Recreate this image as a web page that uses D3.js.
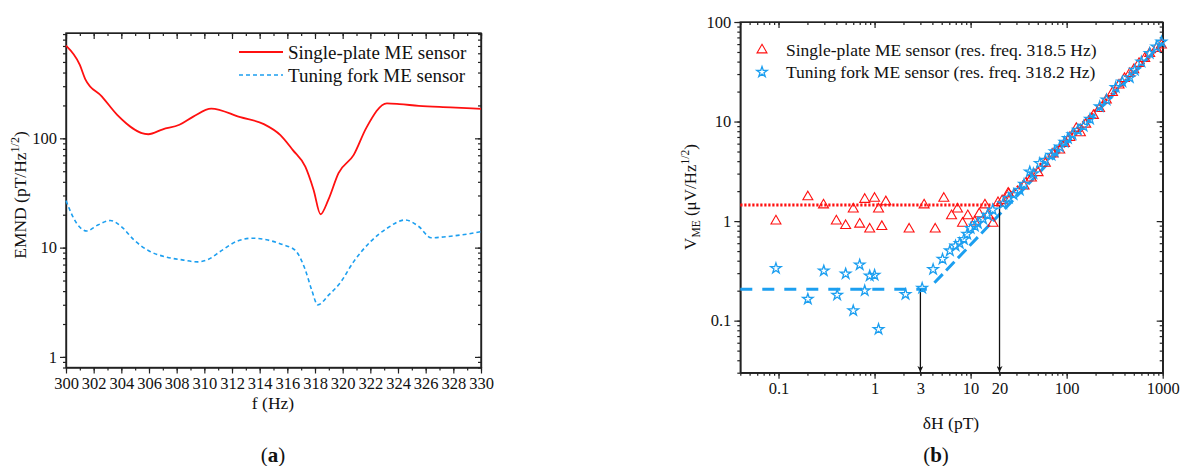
<!DOCTYPE html>
<html lang="en">
<head>
<meta charset="UTF-8">
<title>ME sensor noise and detection limit</title>
<script src="https://d3js.org/d3.v7.min.js"></script>
<style>
  body { margin: 0; background: #fff; }
  svg text { font-family: "Liberation Serif", "DejaVu Serif", serif; fill: #111; }
  .axis path, .axis line { stroke: #222; stroke-width: 1.2px; }
  .axis text { font-size: 16.5px; font-family: "Liberation Serif", serif; fill: #111; }
</style>
</head>
<body>
<svg id="chart" width="1199" height="466"></svg>
<script>
// ---- panel (a): EMND vs frequency ----
const singleF   = [300, 301.0, 301.4, 302.6, 303.7, 305.95, 307.0, 308.2, 309.2, 310.5, 312.6, 314.3, 315.5, 316.4, 317.3, 317.9, 318.4, 318.96, 319.7, 320.8, 321.7, 323.2, 324.1, 325.5, 327.8, 330];
const singleVal = [705, 470, 347, 241, 164, 109, 121, 133, 158, 187, 156, 135, 107, 78, 55, 33.7, 20.2, 27.3, 48, 70.5, 124, 209, 206, 198, 192, 186];
const forkF     = [300, 300.77, 301.5, 302.3, 303.2, 304.0, 304.9, 305.95, 307.3, 308.4, 309.5, 310.2, 311.3, 312.4, 313.5, 314.5, 315.7, 316.55, 317.3, 317.76, 318.2, 319.0, 319.8, 320.8, 322.0, 323.2, 324.5, 325.5, 326.4, 327.5, 329.0, 330];
const forkVal   = [26.9, 16.7, 14.2, 16.1, 17.7, 15.6, 11.8, 9.4, 8.17, 7.72, 7.4, 7.72, 9.5, 11.5, 12.2, 11.8, 10.6, 9.5, 6.25, 4.1, 2.99, 3.69, 4.72, 7.45, 11.3, 15.0, 17.9, 15.6, 12.3, 12.6, 13.3, 14.0];
const aXTicks = d3.range(300, 331, 2);
const aYTicks = [1, 10, 100];
const aLegend = ["Single-plate ME sensor", "Tuning fork ME sensor"];

// ---- panel (b): V_ME vs delta H ----
const plateH = [0.094, 0.202, 0.294, 0.40, 0.50, 0.60, 0.70, 0.79, 0.89, 1.0, 1.10, 1.19, 1.31, 2.29, 3.28, 4.28, 5.26, 6.33, 7.3, 8.24, 9.35, 11.06, 12.3, 14.1, 15.2, 17.1, 19.3, 21.3, 24.6, 25, 36, 43, 50.4, 60, 72, 84.8, 95, 108, 126, 139, 158, 190, 220, 259, 300, 351, 400, 454, 500, 567, 650, 732, 859, 970];
const plateV = [1.0, 1.75, 1.45, 1.0, 0.90, 1.32, 0.93, 1.65, 0.83, 1.69, 1.32, 0.88, 1.56, 0.83, 1.45, 0.83, 1.69, 1.13, 1.32, 0.95, 1.13, 0.98, 1.18, 1.45, 1.15, 0.95, 1.53, 1.6, 1.9, 1.87, 2.25, 2.7, 3.06, 3.8, 4.7, 5.16, 6.0, 6.9, 8.5, 7.7, 9.4, 11.5, 13.5, 16.4, 19.5, 23.2, 27, 30.4, 33, 38.3, 43, 48.3, 54.2, 58.5];
const forkH = [0.094, 0.202, 0.296, 0.408, 0.50, 0.60, 0.70, 0.79, 0.89, 1.0, 1.10, 2.1, 3.13, 4.07, 5.1, 6.08, 6.96, 7.7, 8.5, 9.2, 10, 11.06, 11.9, 13.5, 15, 17, 21.8, 25, 28, 32.5, 36, 41.3, 45, 52.5, 60, 69.5, 75, 84.8, 95, 103, 115, 131, 150, 175, 221, 260, 324, 380, 454, 512, 600, 732, 859, 970];
const forkV = [0.335, 0.165, 0.317, 0.181, 0.296, 0.126, 0.364, 0.2, 0.282, 0.287, 0.082, 0.184, 0.212, 0.327, 0.415, 0.504, 0.565, 0.597, 0.655, 0.74, 0.845, 0.89, 0.95, 1.05, 1.15, 1.3, 1.5, 1.7, 1.85, 2.05, 2.35, 3.13, 3.0, 3.8, 4.1, 4.6, 5.0, 5.57, 6.2, 6.77, 7.4, 8.2, 9.0, 10.6, 14.1, 16.5, 22, 25, 27.7, 32.8, 39.7, 48.3, 56.3, 63];
const plateFitH = [0.04, 20, 1000];
const plateFitV = [1.45, 1.45, 60];
const forkFlatH = [0.04, 3.5];
const forkFlatV = [0.207, 0.207];
const forkRiseH = [4.2, 1000];
const forkRiseV = [0.24, 62];
const limitH = [3, 20];
const limitV = [0.207, 1.45];
const bXTicks = [0.1, 1, 10, 100, 1000];
const bXExtra = [3, 20];
const bYTicks = [0.1, 1, 10, 100];
const bLegend = ["Single-plate ME sensor (res. freq. 318.5 Hz)", "Tuning fork ME sensor (res. freq. 318.2 Hz)"];

const RED = "#ff1010", BLUE = "#1c9ff0";
const svg = d3.select("#chart");

svg.append("defs").append("marker")
  .attr("id", "arrow").attr("viewBox", "0 0 10 10")
  .attr("refX", 10).attr("refY", 5)
  .attr("markerWidth", 7).attr("markerHeight", 6)
  .attr("markerUnits", "userSpaceOnUse")
  .attr("orient", "auto")
  .append("path").attr("d", "M0,0 L10,5 L0,10 L3,5 Z").attr("fill", "#111");

function logMinors(lo, hi) {
  const out = [];
  for (let e = -3; e <= 3; e++) {
    for (let m = 1; m < 10; m++) {
      const v = m * Math.pow(10, e);
      if (v >= lo * 0.999 && v <= hi * 1.001) out.push(v);
    }
  }
  return out;
}

// draws a box with ticks on four sides: out on left/bottom, in on top/right
function frame(g, x, y, xMajor, xMinor, yMajor, yMinor, fmtX, fmtY) {
  const [x0, x1] = x.range(), [y1, y0] = y.range();
  const w = x1 - x0, h = y1 - y0;
  g.append("g").attr("class", "axis").attr("transform", `translate(0,${y1})`)
    .call(d3.axisBottom(x).tickValues(xMinor).tickSize(3).tickFormat("").tickSizeOuter(0));
  g.append("g").attr("class", "axis").attr("transform", `translate(0,${y1})`)
    .call(d3.axisBottom(x).tickValues(xMajor).tickSize(6).tickPadding(4).tickFormat(fmtX).tickSizeOuter(0));
  g.append("g").attr("class", "axis").attr("transform", `translate(0,${y0})`)
    .call(d3.axisTop(x).tickValues(xMinor).tickSize(-3).tickFormat("").tickSizeOuter(0));
  g.append("g").attr("class", "axis").attr("transform", `translate(0,${y0})`)
    .call(d3.axisTop(x).tickValues(xMajor).tickSize(-6).tickFormat("").tickSizeOuter(0));
  g.append("g").attr("class", "axis").attr("transform", `translate(${x0},0)`)
    .call(d3.axisLeft(y).tickValues(yMinor).tickSize(3).tickFormat("").tickSizeOuter(0));
  g.append("g").attr("class", "axis").attr("transform", `translate(${x0},0)`)
    .call(d3.axisLeft(y).tickValues(yMajor).tickSize(6).tickPadding(3).tickFormat(fmtY).tickSizeOuter(0));
  g.append("g").attr("class", "axis").attr("transform", `translate(${x1},0)`)
    .call(d3.axisRight(y).tickValues(yMinor).tickSize(-3).tickFormat("").tickSizeOuter(0));
  g.append("g").attr("class", "axis").attr("transform", `translate(${x1},0)`)
    .call(d3.axisRight(y).tickValues(yMajor).tickSize(-6).tickFormat("").tickSizeOuter(0));
  g.append("rect").attr("x", x0).attr("y", y0).attr("width", w).attr("height", h)
    .attr("fill", "none").attr("stroke", "#222").attr("stroke-width", 1.4);
}

// ================= panel (a) =================
const xa = d3.scaleLinear().domain([300, 330]).range([66, 481]);
const ya = d3.scaleLog().domain([0.8, 920]).range([367.5, 33]);
const ga = svg.append("g");
frame(ga, xa, ya, aXTicks, d3.range(300, 331, 1), aYTicks, logMinors(0.8, 920), d3.format("d"), d3.format("d"));

const lineA = d3.line().x(d => xa(d[0])).y(d => ya(d[1])).curve(d3.curveMonotoneX);
ga.append("path").datum(d3.zip(singleF, singleVal)).attr("d", lineA)
  .attr("fill", "none").attr("stroke", RED).attr("stroke-width", 1.8);
ga.append("path").datum(d3.zip(forkF, forkVal)).attr("d", lineA)
  .attr("fill", "none").attr("stroke", BLUE).attr("stroke-width", 1.6).attr("stroke-dasharray", "4,3");

// legend (a)
const legA = ga.append("g");
legA.append("line").attr("x1", 239).attr("x2", 283).attr("y1", 52).attr("y2", 52)
  .attr("stroke", RED).attr("stroke-width", 1.8);
legA.append("line").attr("x1", 239).attr("x2", 283).attr("y1", 75).attr("y2", 75)
  .attr("stroke", BLUE).attr("stroke-width", 1.6).attr("stroke-dasharray", "4,3");
legA.selectAll("text").data(aLegend).join("text")
  .attr("x", 288).attr("y", (d, i) => 52 + i * 23).attr("dy", "0.35em")
  .attr("font-size", 19).text(d => d);

// titles (a)
ga.append("text").attr("x", 273).attr("y", 409).attr("text-anchor", "middle")
  .attr("font-size", 17.5).text("f (Hz)");
const ta = ga.append("text").attr("transform", "translate(26,195) rotate(-90)")
  .attr("text-anchor", "middle").attr("font-size", 17.5);
ta.append("tspan").text("EMND (pT/Hz");
ta.append("tspan").attr("dy", -7).attr("font-size", 12).text("1/2");
ta.append("tspan").attr("dy", 7).text(")");
const la = ga.append("text").attr("x", 273).attr("y", 462).attr("text-anchor", "middle").attr("font-size", 21);
la.append("tspan").text("(");
la.append("tspan").attr("font-weight", "bold").text("a");
la.append("tspan").text(")");

// ================= panel (b) =================
const xb = d3.scaleLog().domain([0.04, 1000]).range([740.3, 1162.7]);
const yb = d3.scaleLog().domain([0.03, 100]).range([372.7, 22]);
const gb = svg.append("g");
frame(gb, xb, yb, bXTicks, logMinors(0.04, 1000), bYTicks, logMinors(0.03, 100), d3.format("~g"), d3.format("~g"));
gb.append("g").attr("class", "axis").attr("transform", "translate(0,372.7)")
  .call(d3.axisBottom(xb).tickValues(bXExtra).tickSize(3).tickPadding(7).tickFormat(d3.format("d")))
  .select(".domain").remove();

const lineB = d3.line().x(d => xb(d[0])).y(d => yb(d[1]));
gb.append("path").datum(d3.zip(plateFitH, plateFitV)).attr("d", lineB)
  .attr("fill", "none").attr("stroke", RED).attr("stroke-width", 3).attr("stroke-dasharray", "2.2,1.8");
gb.append("path").datum(d3.zip(forkFlatH, forkFlatV)).attr("d", lineB)
  .attr("fill", "none").attr("stroke", BLUE).attr("stroke-width", 3).attr("stroke-dasharray", "12,10");
gb.append("path").datum(d3.zip(forkRiseH, forkRiseV)).attr("d", lineB)
  .attr("fill", "none").attr("stroke", BLUE).attr("stroke-width", 3).attr("stroke-dasharray", "12,5");

// detection limit arrows
gb.selectAll("line.limit").data(d3.zip(limitH, limitV)).join("line")
  .attr("class", "limit")
  .attr("x1", d => xb(d[0])).attr("x2", d => xb(d[0]))
  .attr("y1", d => yb(d[1])).attr("y2", 372)
  .attr("stroke", "#111").attr("stroke-width", 1.3).attr("marker-end", "url(#arrow)");

const tri = d3.symbol(d3.symbolTriangle, 43);
const star = d3.symbol(d3.symbolStar, 34);
gb.selectAll("path.tri").data(d3.zip(plateH, plateV)).join("path")
  .attr("class", "tri").attr("d", tri)
  .attr("transform", d => `translate(${xb(d[0])},${yb(d[1])})`)
  .attr("fill", "none").attr("stroke", RED).attr("stroke-width", 1.1);
gb.selectAll("path.star").data(d3.zip(forkH, forkV)).join("path")
  .attr("class", "star").attr("d", star)
  .attr("transform", d => `translate(${xb(d[0])},${yb(d[1])})`)
  .attr("fill", "none").attr("stroke", BLUE).attr("stroke-width", 1.3);

// legend (b)
gb.append("path").attr("d", tri).attr("transform", "translate(762,50)")
  .attr("fill", "none").attr("stroke", RED).attr("stroke-width", 1.1);
gb.append("path").attr("d", star).attr("transform", "translate(762,72)")
  .attr("fill", "none").attr("stroke", BLUE).attr("stroke-width", 1.3);
gb.selectAll("text.leg").data(bLegend).join("text").attr("class", "leg")
  .attr("x", 786).attr("y", (d, i) => 50 + i * 22).attr("dy", "0.35em")
  .attr("font-size", 17.5).text(d => d);

// titles (b)
gb.append("text").attr("x", 951).attr("y", 429).attr("text-anchor", "middle")
  .attr("font-size", 17.5).text("δH (pT)");
const tb = gb.append("text").attr("transform", "translate(696,197) rotate(-90)")
  .attr("text-anchor", "middle").attr("font-size", 17);
tb.append("tspan").text("V");
tb.append("tspan").attr("dy", 4).attr("font-size", 11.5).text("ME");
tb.append("tspan").attr("dy", -4).text(" (μV/Hz");
tb.append("tspan").attr("dy", -7).attr("font-size", 11.5).text("1/2");
tb.append("tspan").attr("dy", 7).text(")");
const lb = gb.append("text").attr("x", 936).attr("y", 462).attr("text-anchor", "middle").attr("font-size", 21);
lb.append("tspan").text("(");
lb.append("tspan").attr("font-weight", "bold").text("b");
lb.append("tspan").text(")");
</script>
</body>
</html>
